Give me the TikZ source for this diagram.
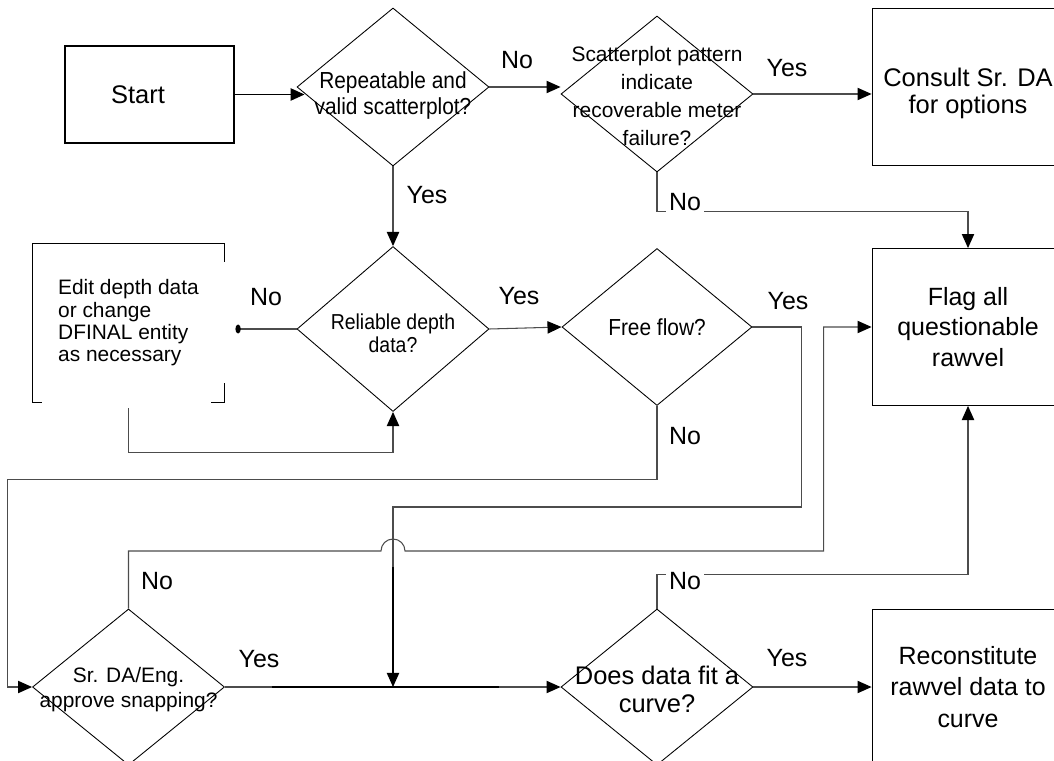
\documentclass[tikz,border=0pt]{standalone}
\usepackage{fontspec}
\setmainfont{Liberation Sans}
\newfontfamily\narrowfont[FakeStretch=0.9]{Liberation Sans}
\usepackage{tikz}
\usetikzlibrary{arrows.meta}
\usetikzlibrary{shapes.geometric, positioning}
\definecolor{wire}{gray}{0.3}
\tikzstyle{arrow} = [wire, line width=0.6pt, -{Triangle[length=8pt,width=7pt,color=black]}]
\tikzstyle{connector} = [wire, line width=0.6pt]
\tikzstyle{heavy} = [black, line width=1.3pt]
\tikzstyle{process} = [rectangle, draw=black, line width=0.5pt, minimum width=3.84cm, minimum height=3.14cm, align=center, font=\fontsize{14.2}{17}\selectfont]
\tikzstyle{startbox} = [rectangle, draw=black, line width=1.1pt, minimum width=3.38cm, minimum height=1.94cm, font=\fontsize{14.5}{17}\selectfont]
\tikzstyle{answer} = [inner sep=2pt, font=\fontsize{14.2}{17}\selectfont]
\tikzset{
	decision/.style = {diamond, draw=black, line width=0.5pt,
		minimum width=3.84cm, minimum height=3.14cm, inner sep=0pt},
	qtext/.style = {align=center, inner sep=0pt}
}

\begin{document}
\begin{tikzpicture}[node distance=5cm]
\useasboundingbox (0,0) rectangle (21.08,-15.22);
%----------------------------------------------------------------------------
% Placement of flowchart nodes
\node (start) [startbox, label={[qtext, xshift=-0.23cm, font=\fontsize{14.5}{17}\selectfont]center:Start}] at (2.99,-1.89) {};
\node (repeatable) [decision, right of=start, node distance=4.87cm, yshift=0.15cm, minimum height=3.16cm,
	label={[qtext, yshift=-0.17cm, font=\narrowfont\fontsize{13.2}{14.7}\selectfont]center:{Repeatable and\\valid scatterplot?}}] {};
\node (scatter) [decision, right of=repeatable, node distance=5.28cm, yshift=-0.14cm, minimum height=3.12cm,
	label={[qtext, yshift=-0.04cm, font=\fontsize{11.9}{16}\selectfont]center:{Scatterplot pattern\\indicate\\recoverable meter\\failure?}}] {};
\node (consult) [process, right of=scatter, node distance=6.22cm, yshift=0.15cm,
	label={[qtext, yshift=-0.14cm, font=\fontsize{14.5}{15.5}\selectfont]center:{Consult Sr. DA\\for options}}] {};

\node (reliable) [decision, below of=repeatable, node distance=4.84cm, minimum height=3.3cm,
	label={[qtext, yshift=-0.08cm, font=\narrowfont\fontsize{12.3}{13.2}\selectfont]center:{Reliable depth\\data?}}] {};
\node (edit) [process, draw=none, left of=reliable, node distance=5.29cm, yshift=0.12cm, minimum width=3.82cm, minimum height=3.16cm, align=left, font=\fontsize{11.9}{12.7}\selectfont] {Edit depth data\\or change\\DFINAL entity\\as necessary};
\node (freeflow) [decision, right of=reliable, node distance=5.28cm, yshift=0.04cm, minimum width=3.8cm,
	label={[qtext, font=\narrowfont\fontsize{13.2}{15}\selectfont]center:{Free flow?}}] {};
\node (flag) [process, right of=freeflow, node distance=6.22cm, font=\fontsize{14.2}{17.5}\selectfont] {Flag all\\questionable\\rawvel};

\node (snap) [decision, below of=edit, node distance=7.28cm, minimum height=3.12cm,
	label={[qtext, yshift=-0.05cm, font=\fontsize{11.9}{14.2}\selectfont]center:{Sr. DA/Eng.\\approve snapping?}}] {};
\node (fit) [decision, below of=freeflow, node distance=7.2cm, minimum height=3.12cm,
	label={[qtext, yshift=-0.04cm, font=\fontsize{14.5}{15.9}\selectfont]center:{Does data fit a\\curve?}}] {};
\node (recon) [process, right of=fit, node distance=6.22cm, minimum height=3.12cm, font=\fontsize{14.2}{17.9}\selectfont] {Reconstitute\\rawvel data to\\curve};

\coordinate (merge) at (reliable |- snap);
\coordinate (hop) at ([yshift=2.72cm]merge);

% broken outline of the edit box
\draw [line width=0.5pt] ([xshift=0.18cm]edit.south west) -- (edit.south west) -- (edit.north west) -- (edit.north east) -- ([yshift=-0.36cm]edit.north east);
\draw [line width=0.5pt] ([yshift=0.38cm]edit.south east) -- (edit.south east) -- ([xshift=-0.26cm]edit.south east);

%----------------------------------------------------------------------------
% Lines
\draw [arrow, black, line width=1pt, shorten >=-0.16cm] (start) -- (start -| repeatable.west);
\draw [arrow] (repeatable) -- (repeatable -| scatter.west);
\draw [arrow] (scatter.east) -- (scatter.east -| consult.west);
\draw [arrow] (scatter.south) -- ++(0,-0.78) -| (flag.north);
\draw [arrow] (repeatable) -- (reliable);

\draw [connector, -{Circle[length=3pt,width=5pt,color=black]}] (reliable.west) -- ([xshift=0.22cm]reliable.west -| edit.east);
\draw [arrow] ([yshift=-0.12cm]edit.south) -- ++(0,-0.88) -| (reliable.south);
\draw [arrow] (reliable.east) -- (freeflow.west);

\draw [arrow] (freeflow.east) -- ++(0.98,0) |- ([yshift=3.6cm]merge) -- (merge);
\draw [arrow] (freeflow.south) -- ++(0,-1.48) -| ([xshift=-0.5cm]snap.west) -- (snap.west);
\draw [arrow] (snap.north) |- ([xshift=-0.24cm]hop) arc[start angle=180, end angle=0, radius=0.24cm] -| ([xshift=-0.96cm]flag.west) -- (flag.west);

\draw [arrow] (snap) -- (fit);
\draw [arrow] (fit.north) -- ++(0,0.68) -| (flag.south);
\draw [arrow] (fit) -- (recon);

% heavy overlays
\draw [heavy, shorten >=7pt] ([yshift=2.4cm]merge) -- (merge);
\draw [heavy] ([xshift=-2.42cm]merge) -- ([xshift=2.12cm]merge);

%----------------------------------------------------------------------------
% Yes / No labels
\node (noRepeat) [answer] at (10.34,-1.2) {No};
\node (yesScatter) [answer] at (15.74,-1.37) {Yes};
\node (noScatter) [answer, fill=white] at (13.70,-4.04) {No};
\node (yesRepeat) [answer] at (8.54,-3.9) {Yes};
\node (noReliable) [answer] at (5.32,-5.94) {No};
\node (yesReliable) [answer] at (10.38,-5.92) {Yes};
\node (yesFree) [answer] at (15.76,-6.02) {Yes};
\node (noFree) [answer] at (13.70,-8.72) {No};
\node (noSnap) [answer] at (3.14,-11.62) {No};
\node (noFit) [answer, fill=white] at (13.70,-11.62) {No};
\node (yesSnap) [answer] at (5.18,-13.18) {Yes};
\node (yesFit) [answer] at (15.74,-13.16) {Yes};

\end{tikzpicture}
\end{document}
